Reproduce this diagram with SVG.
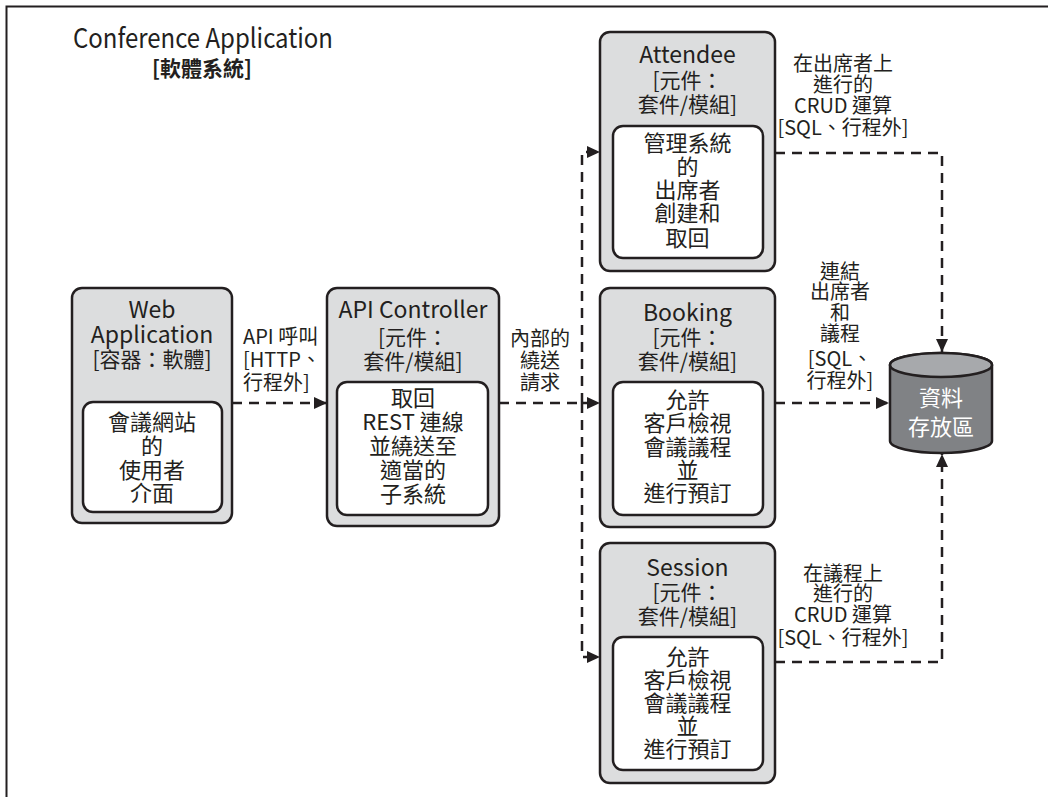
<svg xmlns="http://www.w3.org/2000/svg" width="1054" height="797" viewBox="0 0 1054 797">
<defs>
<style>
text{font-family:"Noto Sans CJK TC","Noto Sans",sans-serif;fill:#231f20;}
.box{fill:#dcddde;stroke:#231f20;stroke-width:2.5;}
.inner{fill:#ffffff;stroke:#231f20;stroke-width:2.5;}
.h{font-size:23px;}
.s{font-size:21px;}
.b{font-size:22px;text-anchor:middle;}
.l{font-size:20px;text-anchor:middle;}
.c{text-anchor:middle;}
.edge{fill:none;stroke:#231f20;stroke-width:2.5;stroke-dasharray:10 7;}
</style>
<marker id="arr" markerUnits="userSpaceOnUse" markerWidth="14" markerHeight="12" refX="13" refY="6" orient="auto">
<path d="M0,0 L13,6 L0,12 Z" fill="#231f20"/>
</marker>
</defs>
<rect width="1054" height="797" fill="#ffffff"/>
<path d="M6.5,797 V6.5 H1048" fill="none" stroke="#231f20" stroke-width="2"/>

<g id="title">
<text x="73" y="48" font-size="27" textLength="260" lengthAdjust="spacingAndGlyphs">Conference Application</text>
<text x="152" y="76" font-size="21" font-weight="bold">[軟體系統]</text>
</g>

<g id="connectors">
<path class="edge" d="M232,403 H327" marker-end="url(#arr)"/>
<path class="edge" d="M499,403 H582"/>
<path class="edge" d="M582,403 V152 H600" marker-end="url(#arr)"/>
<path class="edge" d="M582,403 H600" marker-end="url(#arr)"/>
<path class="edge" d="M582,403 V657 H600" marker-end="url(#arr)"/>
<path class="edge" d="M775,153 H942 V352" marker-end="url(#arr)"/>
<path class="edge" d="M775,403 H889" marker-end="url(#arr)"/>
<path class="edge" d="M775,662 H942 V454" marker-end="url(#arr)"/>
<g id="labels">
<text font-size="20"><tspan x="243" y="344">API 呼叫</tspan><tspan x="243" y="367">[HTTP、</tspan><tspan x="243" y="390">行程外]</tspan></text>
<text class="l"><tspan x="540" y="346">內部的</tspan><tspan x="540" y="368">繞送</tspan><tspan x="540" y="390">請求</tspan></text>
<text class="l"><tspan x="843" y="71">在出席者上</tspan><tspan x="843" y="92">進行的</tspan><tspan x="843" y="113">CRUD 運算</tspan><tspan x="843" y="135">[SQL、行程外]</tspan></text>
<text class="l"><tspan x="840" y="279">連結</tspan><tspan x="840" y="299">出席者</tspan><tspan x="840" y="320">和</tspan><tspan x="840" y="341">議程</tspan><tspan x="840" y="366">[SQL、</tspan><tspan x="840" y="388">行程外]</tspan></text>
<text class="l"><tspan x="843" y="581">在議程上</tspan><tspan x="843" y="601">進行的</tspan><tspan x="843" y="622">CRUD 運算</tspan><tspan x="843" y="645">[SQL、行程外]</tspan></text>
</g>
</g>

<g id="web-application">
<rect class="box" x="72" y="288" width="160" height="235" rx="10"/>
<rect class="inner" x="83" y="402" width="139" height="110" rx="10"/>
<text class="c"><tspan class="h" x="152" y="318">Web</tspan><tspan class="h" x="152" y="343">Application</tspan><tspan class="s" x="152" y="367">[容器：軟體]</tspan></text>
<text class="b"><tspan x="152" y="430">會議網站</tspan><tspan x="152" y="454">的</tspan><tspan x="152" y="478">使用者</tspan><tspan x="152" y="501">介面</tspan></text>
</g>

<g id="api-controller">
<rect class="box" x="327" y="288" width="172" height="238" rx="10"/>
<rect class="inner" x="337" y="382" width="151" height="133" rx="10"/>
<text class="c"><tspan class="h" x="413" y="318">API Controller</tspan><tspan class="s" x="413" y="345">[元件：</tspan><tspan class="s" x="413" y="369">套件/模組]</tspan></text>
<text class="b"><tspan x="413" y="406">取回</tspan><tspan x="413" y="430">REST 連線</tspan><tspan x="413" y="454">並繞送至</tspan><tspan x="413" y="478">適當的</tspan><tspan x="413" y="502">子系統</tspan></text>
</g>

<g id="attendee">
<rect class="box" x="600" y="32" width="175" height="239" rx="10"/>
<rect class="inner" x="613" y="126" width="150" height="132" rx="10"/>
<text class="c"><tspan class="h" x="687.5" y="63">Attendee</tspan><tspan class="s" x="687.5" y="88">[元件：</tspan><tspan class="s" x="687.5" y="112">套件/模組]</tspan></text>
<text class="b"><tspan x="687.5" y="151">管理系統</tspan><tspan x="687.5" y="175">的</tspan><tspan x="687.5" y="198">出席者</tspan><tspan x="687.5" y="221">創建和</tspan><tspan x="687.5" y="246">取回</tspan></text>
</g>

<g id="booking">
<rect class="box" x="600" y="288" width="175" height="239" rx="10"/>
<rect class="inner" x="613" y="382" width="150" height="133" rx="10"/>
<text class="c"><tspan class="h" x="687.5" y="321">Booking</tspan><tspan class="s" x="687.5" y="345">[元件：</tspan><tspan class="s" x="687.5" y="369">套件/模組]</tspan></text>
<text class="b"><tspan x="687.5" y="408">允許</tspan><tspan x="687.5" y="431">客戶檢視</tspan><tspan x="687.5" y="455">會議議程</tspan><tspan x="687.5" y="478">並</tspan><tspan x="687.5" y="501">進行預訂</tspan></text>
</g>

<g id="session">
<rect class="box" x="600" y="543" width="175" height="240" rx="10"/>
<rect class="inner" x="613" y="637" width="150" height="133" rx="10"/>
<text class="c"><tspan class="h" x="687.5" y="576">Session</tspan><tspan class="s" x="687.5" y="600">[元件：</tspan><tspan class="s" x="687.5" y="624">套件/模組]</tspan></text>
<text class="b"><tspan x="687.5" y="665">允許</tspan><tspan x="687.5" y="688">客戶檢視</tspan><tspan x="687.5" y="711">會議議程</tspan><tspan x="687.5" y="734">並</tspan><tspan x="687.5" y="757">進行預訂</tspan></text>
</g>

<g id="data-store">
<path d="M890,365 V441 A51,12 0 0 0 992,441 V365 A51,12 0 0 0 890,365 Z" fill="#808285" stroke="#231f20" stroke-width="2.5"/>
<ellipse cx="941" cy="365" rx="51" ry="12" fill="#a7a9ac" stroke="#231f20" stroke-width="2.5"/>
<text font-size="22" text-anchor="middle" style="fill:#ffffff"><tspan x="941" y="406">資料</tspan><tspan x="941" y="435">存放區</tspan></text>
</g>
</svg>
